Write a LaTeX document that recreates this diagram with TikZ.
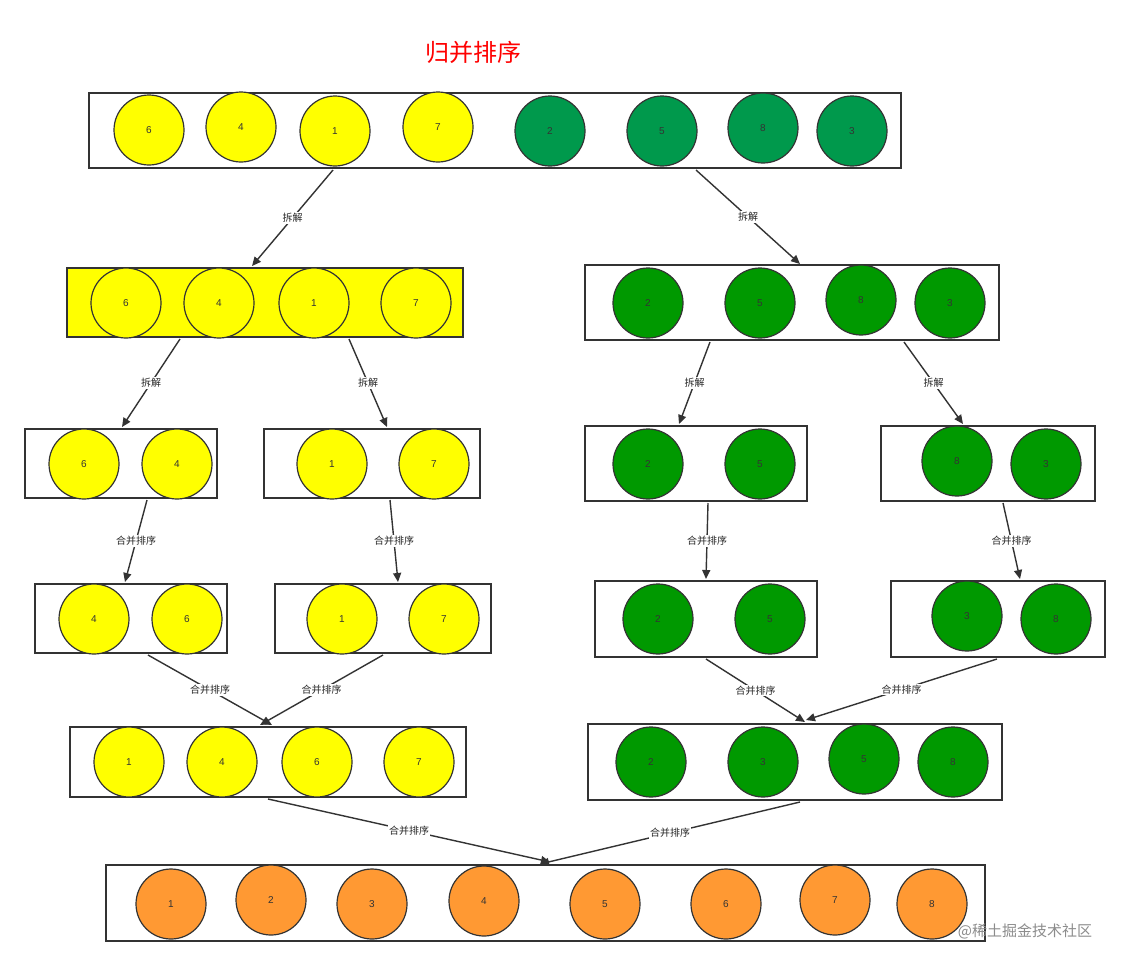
\documentclass[tikz,border=0pt]{standalone}
\usepackage{fontspec}
\setmainfont{Liberation Sans}
\newfontfamily\cjk{Noto Sans CJK SC}
\usetikzlibrary{arrows.meta}
\definecolor{ylw}{HTML}{FFFF00}
\definecolor{dgr}{HTML}{00994C}
\definecolor{mgr}{HTML}{009900}
\definecolor{org}{HTML}{FF9933}
\tikzset{
 ball/.style={circle,draw=black!80,line width=1.2pt,minimum size=70pt,inner sep=0pt,font=\fontsize{10}{10}\selectfont,text=black!80},
 yb/.style={ball,fill=ylw},
 gb/.style={ball,fill=dgr},
 mb/.style={ball,fill=mgr},
 ob/.style={ball,fill=org},
 frame/.style={draw=black!80,line width=1.2pt},
 conn/.style={-{Triangle[length=9pt,width=8pt]},line width=1.4pt,draw=black!80},
 lbl/.style={fill=white,inner sep=1pt,font=\cjk\fontsize{10}{10}\selectfont,text=black!85},
}
\begin{document}
\begin{tikzpicture}[x=1pt,y=-1pt]
\useasboundingbox (0,0) rectangle (1130,967);
\fill[white] (0,0) rectangle (1130,967);
\node[text=red,font=\cjk\fontsize{24}{24}\selectfont] (title) at (473,52) {归并排序};
% boxes
\draw[frame] (89,93) rectangle (901,168);
\draw[frame,fill=ylw] (67,268) rectangle (463,337);
\draw[frame] (585,265) rectangle (999,340);
\draw[frame] (25,429) rectangle (217,498);
\draw[frame] (264,429) rectangle (480,498);
\draw[frame] (585,426) rectangle (807,501);
\draw[frame] (881,426) rectangle (1095,501);
\draw[frame] (35,584) rectangle (227,653);
\draw[frame] (275,584) rectangle (491,653);
\draw[frame] (595,581) rectangle (817,657);
\draw[frame] (891,581) rectangle (1105,657);
\draw[frame] (70,727) rectangle (466,797);
\draw[frame] (588,724) rectangle (1002,800);
\draw[frame] (106,865) rectangle (985,941);
% row 1
\node[yb] (a1) at (149,130) {6};
\node[yb] (a2) at (241,127) {4};
\node[yb] (a3) at (335,131) {1};
\node[yb] (a4) at (438,127) {7};
\node[gb] (a5) at (550,131) {2};
\node[gb] (a6) at (662,131) {5};
\node[gb] (a7) at (763,128) {8};
\node[gb] (a8) at (852,131) {3};
% row 2
\node[yb] (b1) at (126,303) {6};
\node[yb] (b2) at (219,303) {4};
\node[yb] (b3) at (314,303) {1};
\node[yb] (b4) at (416,303) {7};
\node[mb] (b5) at (648,303) {2};
\node[mb] (b6) at (760,303) {5};
\node[mb] (b7) at (861,300) {8};
\node[mb] (b8) at (950,303) {3};
% row 3
\node[yb] (c1) at (84,464) {6};
\node[yb] (c2) at (177,464) {4};
\node[yb] (c3) at (332,464) {1};
\node[yb] (c4) at (434,464) {7};
\node[mb] (c5) at (648,464) {2};
\node[mb] (c6) at (760,464) {5};
\node[mb] (c7) at (957,461) {8};
\node[mb] (c8) at (1046,464) {3};
% row 4
\node[yb] (d1) at (94,619) {4};
\node[yb] (d2) at (187,619) {6};
\node[yb] (d3) at (342,619) {1};
\node[yb] (d4) at (444,619) {7};
\node[mb] (d5) at (658,619) {2};
\node[mb] (d6) at (770,619) {5};
\node[mb] (d7) at (967,616) {3};
\node[mb] (d8) at (1056,619) {8};
% row 5
\node[yb] (e1) at (129,762) {1};
\node[yb] (e2) at (222,762) {4};
\node[yb] (e3) at (317,762) {6};
\node[yb] (e4) at (419,762) {7};
\node[mb] (e5) at (651,762) {2};
\node[mb] (e6) at (763,762) {3};
\node[mb] (e7) at (864,759) {5};
\node[mb] (e8) at (953,762) {8};
% row 6
\node[ob] (f1) at (171,904) {1};
\node[ob] (f2) at (271,900) {2};
\node[ob] (f3) at (372,904) {3};
\node[ob] (f4) at (484,901) {4};
\node[ob] (f5) at (605,904) {5};
\node[ob] (f6) at (726,904) {6};
\node[ob] (f7) at (835,900) {7};
\node[ob] (f8) at (932,904) {8};
% connector end points
\foreach \n/\x/\y in {p1/333/170,q1/252/266,p2/696/170,q2/800/264,
 p3/180/339,q3/122/427,p4/349/339,q4/387/427,p5/710/342,q5/679/424,p6/904/342,q6/963/424,
 p7/147/500,q7/125/582,p8/390/500,q8/398/582,p9/708/503,q9/706/579,p10/1003/503,q10/1020/579,
 p11/148/655,q11/272/725,p12/383/655,q12/260/725,p13/706/659,q13/805/722,p14/997/659,q14/806/720,
 p15/268/799,q15/550/862,p16/800/802,q16/540/864}
 \coordinate (\n) at (\x,\y);
\draw[conn] (p1) -- node[lbl]{拆解} (q1);
\draw[conn] (p2) -- node[lbl]{拆解} (q2);
\draw[conn] (p3) -- node[lbl]{拆解} (q3);
\draw[conn] (p4) -- node[lbl]{拆解} (q4);
\draw[conn] (p5) -- node[lbl]{拆解} (q5);
\draw[conn] (p6) -- node[lbl]{拆解} (q6);
\draw[conn] (p7) -- node[lbl]{合并排序} (q7);
\draw[conn] (p8) -- node[lbl]{合并排序} (q8);
\draw[conn] (p9) -- node[lbl]{合并排序} (q9);
\draw[conn] (p10) -- node[lbl]{合并排序} (q10);
\draw[conn] (p11) -- node[lbl,pos=0.5]{合并排序} (q11);
\draw[conn] (p12) -- node[lbl,pos=0.5]{合并排序} (q12);
\draw[conn] (p13) -- node[lbl,pos=0.5]{合并排序} (q13);
\draw[conn] (p14) -- node[lbl,pos=0.5]{合并排序} (q14);
\draw[conn] (p15) -- node[lbl,pos=0.5]{合并排序} (q15);
\draw[conn] (p16) -- node[lbl,pos=0.5]{合并排序} (q16);
\node[text=black!45,font=\cjk\fontsize{15}{15}\selectfont] (wm) at (1025,931) {@稀土掘金技术社区};
\end{tikzpicture}
\end{document}
